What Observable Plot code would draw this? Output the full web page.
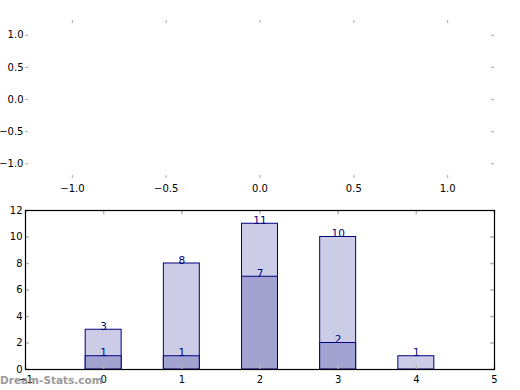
<!DOCTYPE html>
<html><head><meta charset="utf-8">
<script src="https://cdn.jsdelivr.net/npm/d3@7"></script>
<script src="https://cdn.jsdelivr.net/npm/@observablehq/plot@0.6"></script>
<style>
body{margin:0;background:#fff;}
#chart{position:relative;width:520px;height:390px;overflow:hidden;}
#chart svg{display:block;}
#wm{position:absolute;left:0;top:375px;font:bold 10.5px "DejaVu Sans";line-height:1;color:#8a8a8a;opacity:0.85;white-space:nowrap;}
</style></head><body><div id="chart"><div id="wm">Dream-Stats.com</div></div>
<script>
// top (empty) panel ticks
const topXTicks = [-1.0, -0.5, 0.0, 0.5, 1.0];
const topYTicks = [-1.0, -0.5, 0.0, 0.5, 1.0];
// bar panel data
const categories = [0, 1, 2, 3, 4];
const totals = [3, 8, 11, 10, 1];
const subset = [1, 1, 7, 2, 0];
const barXTicks = [-1, 0, 1, 2, 3, 4, 5];
const barYTicks = [0, 2, 4, 6, 8, 10, 12];

const rows = categories.map((c, i) => ({c, total: totals[i], sub: subset[i]}));
const subRows = rows.filter(d => d.sub > 0);

const W = 520, ML = 25, MR = 26;
const fw = W - ML - MR;
const grey = "#b5b5b5";
const style = {fontFamily: "DejaVu Sans", fontSize: "10px", color: "black", background: "white", overflow: "visible"};

// Top panel
const topH = 200, topMT = 20, topMB = 22;
const fhTop = topH - topMT - topMB;
const t1 = 3;
const fmt1 = d3.format(".1f");
const topPlot = Plot.plot({
  width: W, height: topH, marginLeft: ML, marginRight: MR, marginTop: topMT, marginBottom: topMB,
  style,
  x: {domain: [-1.25, 1.25]},
  y: {domain: [-1.23, 1.23]},
  marks: [
    Plot.tickX(topXTicks, {x: d => d, stroke: grey, strokeWidth: 1.2, insetBottom: fhTop - t1}),
    Plot.tickX(topXTicks, {x: d => d, stroke: grey, strokeWidth: 1.2, insetTop: fhTop - t1}),
    Plot.tickY(topYTicks, {y: d => d, stroke: grey, strokeWidth: 1.2, insetRight: fw - t1}),
    Plot.tickY(topYTicks, {y: d => d, stroke: grey, strokeWidth: 1.2, insetLeft: fw - t1}),
    Plot.axisX(topXTicks, {tickSize: 0, tickPadding: 6, tickFormat: fmt1, label: null}),
    Plot.axisY(topYTicks, {tickSize: 0, tickPadding: 2, tickFormat: fmt1, label: null})
  ]
});

// Bottom bar panel
const botH = 190, botMT = 10, botMB = 21;
const fhBot = botH - botMT - botMB;
const t2 = 4;
const hw = 0.23;
const botPlot = Plot.plot({
  width: W, height: botH, marginLeft: ML, marginRight: MR, marginTop: botMT, marginBottom: botMB,
  style,
  x: {domain: [-1, 5]},
  y: {domain: [0, 12]},
  marks: [
    Plot.rectY(rows, {x1: d => d.c - hw, x2: d => d.c + hw, y: "total", fill: "#ccccE6", stroke: "#000080", strokeWidth: 1}),
    Plot.rectY(subRows, {x1: d => d.c - hw, x2: d => d.c + hw, y: "sub", fill: "#a3a3d1", stroke: "#000080", strokeWidth: 1}),
    Plot.tickX(barXTicks, {x: d => d, stroke: grey, strokeWidth: 1.5, insetBottom: fhBot - t2}),
    Plot.tickX(barXTicks, {x: d => d, stroke: grey, strokeWidth: 1.5, insetTop: fhBot - t2}),
    Plot.tickY(barYTicks, {y: d => d, stroke: grey, strokeWidth: 1.5, insetRight: fw - t2}),
    Plot.tickY(barYTicks, {y: d => d, stroke: grey, strokeWidth: 1.5, insetLeft: fw - t2}),
    Plot.text(rows, {x: "c", y: "total", text: d => String(d.total), lineAnchor: "bottom", fill: "#000080", fontSize: 10.5}),
    Plot.text(subRows, {x: "c", y: "sub", text: d => String(d.sub), lineAnchor: "bottom", fill: "#000080", fontSize: 10.5}),
    Plot.frame({stroke: "black", strokeWidth: 1.2}),
    Plot.axisX(barXTicks, {tickSize: 0, tickPadding: 6, label: null}),
    Plot.axisY(barYTicks, {tickSize: 0, tickPadding: 3, label: null})
  ]
});

const chart = document.getElementById("chart");
chart.insertBefore(botPlot, chart.firstChild);
chart.insertBefore(topPlot, botPlot);
</script>
</body></html>
